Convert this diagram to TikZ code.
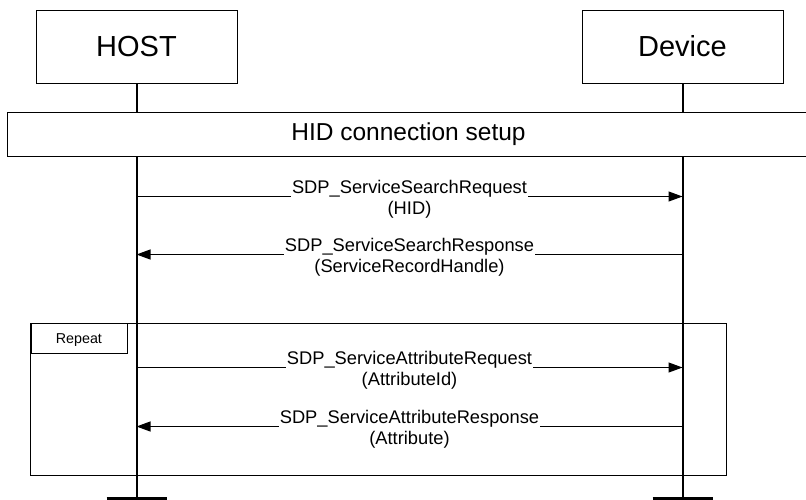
\documentclass[tikz,border=0pt]{standalone}
\usepackage{fontspec}
\setmainfont{Liberation Sans}
\usetikzlibrary{calc,arrows.meta}

\tikzset{
  entity/.style={draw,line width=1pt,minimum width=201pt,minimum height=73pt,inner sep=0pt,font=\fontsize{29}{34}\selectfont},
  lifeline/.style={line width=2pt},
  endbar/.style={line width=3pt},
  setupbar/.style={draw,fill=white,line width=1pt,minimum width=803pt,minimum height=44pt,inner sep=0pt,font=\fontsize{24.5}{28}\selectfont},
  msg/.style={line width=1.1pt,-{Triangle[length=14pt,width=10pt]}},
  msglabel/.style={fill=white,align=center,inner xsep=1pt,inner ysep=0pt,anchor=base,yshift=-18pt,font=\fontsize{18.3}{21}\selectfont},
  loopframe/.style={draw,line width=1pt,minimum width=696pt,minimum height=152pt,inner sep=0pt},
  looptab/.style={draw,fill=white,line width=0.8pt,minimum width=96pt,minimum height=30pt,inner sep=0pt,font=\fontsize{14.3}{17}\selectfont},
}

\begin{document}
\begin{tikzpicture}[x=1pt,y=-1pt]
\useasboundingbox (0,0) rectangle (806,499);

\node[entity] (host) at (136.5,46.5) {HOST};
\node[entity] (dev) at (682.5,46.5) {Device};

\coordinate (hostend) at ($(host.south)+(0,415)$);
\coordinate (devend) at ($(dev.south)+(0,415)$);

\draw[lifeline] (host.south) -- (hostend);
\draw[lifeline] (dev.south) -- (devend);

\draw[endbar] ($(hostend)+(-30,0)$) -- ($(hostend)+(30,0)$);
\draw[endbar] ($(devend)+(-30,0)$) -- ($(devend)+(30,0)$);

\node[setupbar] (setup) at (408.5,134) {HID connection setup};

\coordinate (h1) at ($(host.south)+(0,113)$);
\coordinate (d1) at ($(dev.south)+(0,113)$);
\coordinate (h2) at ($(host.south)+(0,171)$);
\coordinate (d2) at ($(dev.south)+(0,171)$);
\coordinate (h3) at ($(host.south)+(0,284)$);
\coordinate (d3) at ($(dev.south)+(0,284)$);
\coordinate (h4) at ($(host.south)+(0,343)$);
\coordinate (d4) at ($(dev.south)+(0,343)$);

\draw[msg] (h1) -- node[msglabel] {SDP\_ServiceSearchRequest\\(HID)} (d1);
\draw[msg] (d2) -- node[msglabel] {SDP\_ServiceSearchResponse\\(ServiceRecordHandle)} (h2);

\node[loopframe] (loop) at (378,399) {};
\node[looptab,anchor=north west] (tab) at ($(loop.north west)+(1,0)$) {};
\node (tabtext) at ($(tab.center)+(0,2)$) {\fontsize{14.3}{17}\selectfont Repeat};

\draw[msg] (h3) -- node[msglabel] {SDP\_ServiceAttributeRequest\\(AttributeId)} (d3);
\draw[msg] (d4) -- node[msglabel] {SDP\_ServiceAttributeResponse\\(Attribute)} (h4);

\end{tikzpicture}
\end{document}
